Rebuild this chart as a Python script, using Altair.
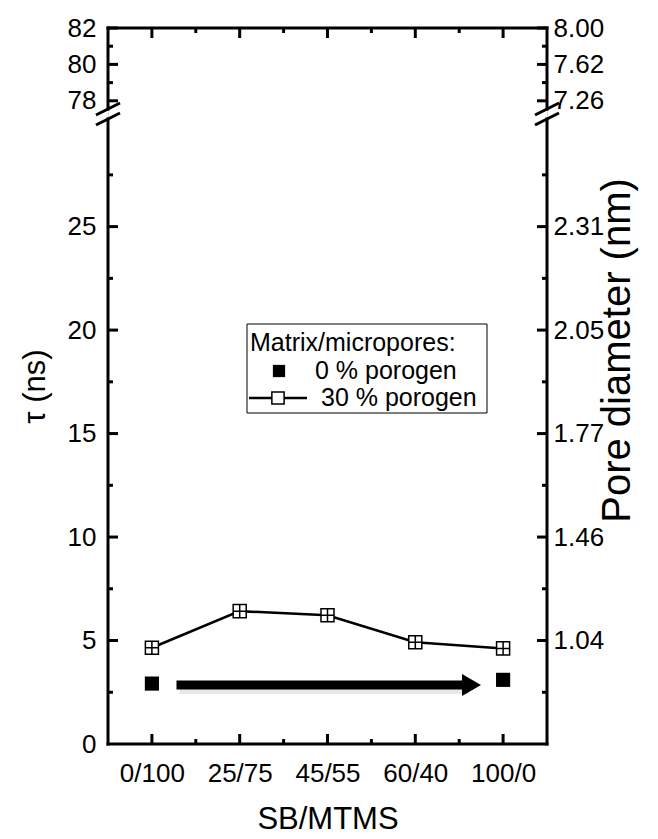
import altair as alt
import pandas as pd

# SB/MTMS ratios on the x axis
ratios = ["0/100", "25/75", "45/55", "60/40", "100/0"]

# Lifetime tau (ns) of the matrix/micropore component
tau_30 = [4.65, 6.42, 6.22, 4.92, 4.62]        # 30 % porogen, all ratios
tau_0_idx = [0, 4]                               # 0 % porogen, measured ratios only
tau_0 = [2.92, 3.10]

# Left-axis tick values and matching pore diameters on the right axis
tau_ticks = [0, 5, 10, 15, 20, 25, 78, 80, 82]
pore_ticks = [5, 10, 15, 20, 25, 78, 80, 82]
pore_labels = ["1.04", "1.46", "1.77", "2.05", "2.31", "7.26", "7.62", "8.00"]
tau_minor = [2.5, 7.5, 12.5, 17.5, 22.5, 27.5, 79, 81]
x_major = [0, 1, 2, 3, 4]
x_minor = [0.5, 1.5, 2.5, 3.5]

# Broken y axis: lower segment 0-30.2, upper segment 77.55-82
LOW_TOP, HIGH_BOT = 30.2, 77.55
W, H = 439, 716
FONT = "Liberation Sans"
LBL = 26
TTL = 31

yscale = alt.Scale(domain=[0, LOW_TOP, HIGH_BOT, 82], range=[H, 91, 81, 0],
                   nice=False, zero=False)
xscale = alt.Scale(domain=[-0.5, 4.5], nice=False, zero=False)


def X(field):
    return alt.X(field, scale=xscale, axis=None)


def Y(field):
    return alt.Y(field, scale=yscale, axis=None)


df30 = pd.DataFrame({"i": list(range(len(ratios))), "tau": tau_30})
df0 = pd.DataFrame({"i": tau_0_idx, "tau": tau_0})
dmaj = pd.DataFrame({"v": [t for t in tau_ticks if t != 0]})
dmin = pd.DataFrame({"v": tau_minor})
dxmaj = pd.DataFrame({"v": x_major})
dxmin = pd.DataFrame({"v": x_minor})

ratio_expr = "[" + ",".join(f"'{r}'" for r in ratios) + "][datum.value]"
pore_expr = ("[" + ",".join(f"'{p}'" for p in pore_labels) + "][indexof(["
             + ",".join(str(t) for t in pore_ticks) + "], datum.value)]")

blank = alt.Chart(pd.DataFrame({"a": [0]}))
LW = 3

# axes with labels only (ticks and frame are drawn as rules so they point inward)
left_axis = blank.mark_point(opacity=0).encode(
    x=alt.X("a:Q", scale=xscale, axis=alt.Axis(
        values=x_major, labelExpr=ratio_expr, title="SB/MTMS", ticks=False,
        domain=False, grid=False, labelFontSize=LBL, labelFont=FONT,
        labelPadding=16, titleFontSize=TTL, titleFont=FONT,
        titleFontWeight="normal", titlePadding=18, labelColor="black",
        titleColor="black")),
    y=alt.Y("a:Q", scale=yscale, axis=alt.Axis(
        values=tau_ticks, title="τ (ns)", ticks=False, domain=False,
        grid=False, labelFontSize=LBL, labelFont=FONT, labelPadding=12,
        titleFontSize=TTL, titleFont=FONT, titleFontWeight="normal",
        titlePadding=16, labelColor="black", titleColor="black")),
)
right_axis = blank.mark_point(opacity=0).encode(
    x=X("a:Q"),
    y=alt.Y("a:Q", scale=yscale, axis=alt.Axis(
        orient="right", values=pore_ticks, labelExpr=pore_expr,
        title="Pore diameter (nm)", ticks=False, domain=False, grid=False,
        labelFontSize=LBL, labelFont=FONT, labelPadding=6, titleFontSize=40,
        titleFont=FONT, titleFontWeight="normal",
        titleAngle=270, titleBaseline="top", titleX=50, titleY=322,
        titleAlign="center",
        labelColor="black", titleColor="black")),
)

# frame: left/right in two pieces around the break, plus top and bottom
frame = []
for xv in (0, W):
    for lo, hi in ((0, LOW_TOP), (HIGH_BOT, 82)):
        frame.append(blank.mark_rule(strokeWidth=LW, color="black", strokeCap="square").encode(
            x=alt.value(xv), y=alt.YDatum(lo, scale=yscale, axis=None), y2=alt.Y2Datum(hi)))
for yv in (0, H):
    frame.append(blank.mark_rule(strokeWidth=LW, color="black", strokeCap="square").encode(
        x=alt.value(0), x2=alt.value(W), y=alt.value(yv)))

# break marks
breaks = []
for xv in (0, W):
    for yv in (HIGH_BOT, LOW_TOP):
        breaks.append(blank.mark_rule(strokeWidth=3, color="black",
                                      xOffset=-12, x2Offset=12, yOffset=6, y2Offset=-6).encode(
            x=alt.value(xv), x2=alt.value(xv),
            y=alt.YDatum(yv, scale=yscale, axis=None), y2=alt.Y2Datum(yv)))

# inward ticks
ticks = []
for data, ln in ((dmaj, 10), (dmin, 5)):
    ticks.append(alt.Chart(data).mark_rule(strokeWidth=LW, color="black").encode(
        y=Y("v:Q"), x=alt.value(0), x2=alt.value(ln)))
    ticks.append(alt.Chart(data).mark_rule(strokeWidth=LW, color="black").encode(
        y=Y("v:Q"), x=alt.value(W), x2=alt.value(W - ln)))
for data, ln in ((dxmaj, 10), (dxmin, 5)):
    ticks.append(alt.Chart(data).mark_rule(strokeWidth=LW, color="black").encode(
        x=X("v:Q"), y=alt.value(H), y2=alt.value(H - ln)))
    ticks.append(alt.Chart(data).mark_rule(strokeWidth=LW, color="black").encode(
        x=X("v:Q"), y=alt.value(0), y2=alt.value(ln)))

# 30 % porogen series: line with open squares crossed inside
box_cross = "M-1,-1H1V1H-1Z M0,-1V1 M-1,0H1"
line30 = alt.Chart(df30).mark_line(color="black", strokeWidth=2.5).encode(
    x=X("i:Q"), y=Y("tau:Q"))
pts30 = alt.Chart(df30).mark_point(shape=box_cross, filled=True, fill="white",
                                   stroke="black", strokeWidth=1.5, size=170,
                                   opacity=1).encode(x=X("i:Q"), y=Y("tau:Q"))

# 0 % porogen: filled squares
pts0 = alt.Chart(df0).mark_square(color="black", size=200, opacity=1).encode(
    x=X("i:Q"), y=Y("tau:Q"))

# arrow along the 0 % porogen level
arrow_df = pd.DataFrame({"x0": [0.28], "x1": [3.58], "xh": [3.64], "tau": [2.85]})
arrow_shadow = alt.Chart(arrow_df).mark_rule(strokeWidth=10, color="#d0d0d0",
                                             opacity=0.5, xOffset=3, x2Offset=3,
                                             yOffset=4, y2Offset=4).encode(
    x=X("x0:Q"), x2="x1:Q", y=Y("tau:Q"))
arrow_body = alt.Chart(arrow_df).mark_rule(strokeWidth=9, color="black").encode(
    x=X("x0:Q"), x2="x1:Q", y=Y("tau:Q"))
arrow_head = alt.Chart(arrow_df).mark_point(shape="triangle-right", filled=True,
                                            color="black", size=480, opacity=1).encode(
    x=X("xh:Q"), y=Y("tau:Q"))

# legend box
LX0, LX1, LY0, LY1 = 139, 379, 296, 385
LF = 25
leg_box = blank.mark_rect(fill="white", stroke="black", strokeWidth=1).encode(
    x=alt.value(LX0), x2=alt.value(LX1), y=alt.value(LY0), y2=alt.value(LY1))
leg_title = blank.mark_text(text="Matrix/micropores:", font=FONT, fontSize=LF,
                            align="left", baseline="middle", color="black").encode(
    x=alt.value(LX0 + 3), y=alt.value(LY0 + 19))
leg_sq = blank.mark_square(color="black", size=150, opacity=1).encode(
    x=alt.value(LX0 + 32), y=alt.value(LY0 + 47))
leg_t0 = blank.mark_text(text="0 % porogen", font=FONT, fontSize=LF,
                         align="left", baseline="middle", color="black").encode(
    x=alt.value(LX0 + 68), y=alt.value(LY0 + 47))
leg_line = blank.mark_rule(color="black", strokeWidth=2.5).encode(
    x=alt.value(LX0 + 2), x2=alt.value(LX0 + 60), y=alt.value(LY0 + 74))
leg_open = blank.mark_square(fill="white", stroke="black", strokeWidth=1.5,
                             filled=True, size=150, opacity=1).encode(
    x=alt.value(LX0 + 31), y=alt.value(LY0 + 74))
leg_t30 = blank.mark_text(text="30 % porogen", font=FONT, fontSize=LF,
                          align="left", baseline="middle", color="black").encode(
    x=alt.value(LX0 + 74), y=alt.value(LY0 + 74))

chart = alt.layer(
    left_axis, right_axis, *frame, *breaks, *ticks,
    arrow_shadow, arrow_body, arrow_head,
    line30, pts30, pts0,
    leg_box, leg_title, leg_sq, leg_t0, leg_line, leg_open, leg_t30,
).resolve_axis(x="independent", y="independent").properties(
    width=W, height=H,
    autosize=alt.AutoSizeParams(type="none"),
    padding={"left": 108, "top": 28, "right": 111, "bottom": 95},
).configure_view(stroke=None).configure(background="white")

chart.save("out.html", embed_options={"renderer": "svg", "actions": False})
